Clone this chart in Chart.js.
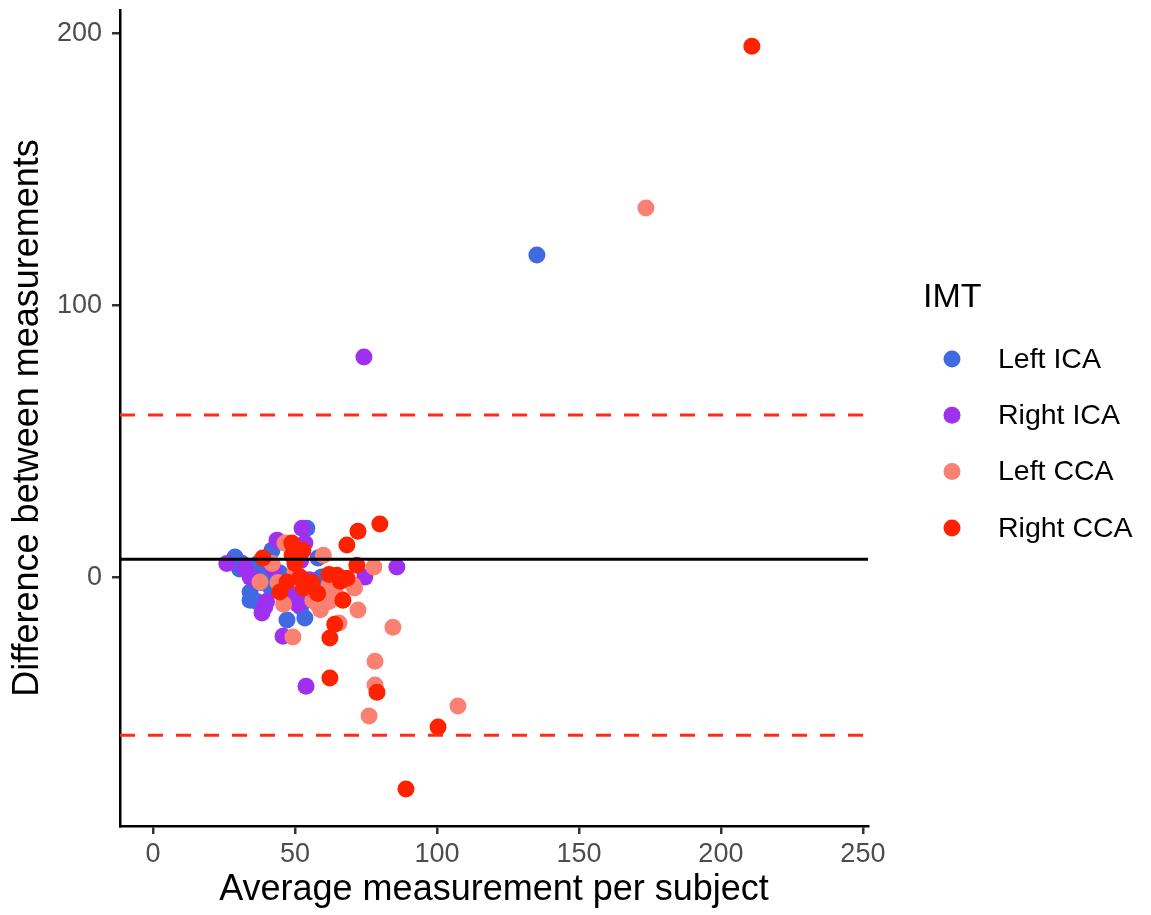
<!DOCTYPE html>
<html>
<head>
<meta charset="utf-8">
<title>Bland-Altman IMT</title>
<script src="https://cdn.jsdelivr.net/npm/chart.js@4/dist/chart.umd.min.js"></script>
<style>
  html, body { margin: 0; padding: 0; background: #fff; }
  #wrap { width: 1151px; height: 915px; }
</style>
</head>
<body>
<div id="wrap"><canvas id="baChart"></canvas></div>
<script>
// average vs difference, one pair of arrays per IMT site
const leftIcaX = [135.2, 28.9, 31.3, 34.2, 39.4, 44.7, 41.9, 34.2, 34.2, 36.5, 47.2, 53.5, 58.8, 58.1, 59.5, 61.6, 54.2, 41.5, 30.5, 40, 46, 38, 52, 56.5, 60.5, 33, 37];
const leftIcaY = [118.4, 7.4, 5.1, 1.5, 0.7, 1.5, 9.9, -5.5, -8.5, -9, -15.8, -15, -0.4, 7, 0, -4.8, 18, -4, 3, 2.5, 0, -2, -11, -3, -1, 4, 5];

const rightIcaX = [74.3, 53.9, 85.9, 74.6, 26, 32.4, 34.2, 42.3, 43.7, 52.5, 53.5, 39.4, 38.4, 45.8, 51, 48.2, 55, 46, 52, 36, 40, 51];
const rightIcaY = [80.9, -40.1, 3.7, 0, 5, 3.3, 0, 3.3, 13.6, 18, 12.5, -11, -13.2, -21.7, -7.7, -5.9, -1, -3, 6, -1, -9, -10];

const leftCcaX = [173.6, 107.4, 76.1, 78.2, 78.2, 84.5, 65.5, 72.2, 77.8, 60, 70.4, 61.6, 46.5, 37.7, 56.3, 49.3, 64, 58, 62, 55, 68, 42, 50, 46, 66, 71, 62, 59, 44, 64.5];
const leftCcaY = [135.7, -47.4, -51.1, -39.7, -30.9, -18.4, -16.9, -12.1, 3.7, 8, -2.9, -4.8, 12.5, -1.8, -8.5, -22, -5, -10, -9, -3, -1, 5, 2, -10, -8, -4, -3, -12, -2, -7];

const rightCcaX = [210.9, 89.1, 100.4, 78.9, 62.3, 62.3, 64, 66.9, 71.8, 72.2, 79.9, 68.3, 52.8, 52.5, 64.8, 68.3, 66, 38.7, 48.9, 47.2, 51.8, 44.7, 56, 50, 62, 58, 49, 53];
const rightCcaY = [195.2, -77.9, -55.1, -42.3, -37.1, -22.4, -17.3, -8.5, 4.4, 16.9, 19.5, 11.8, 9.9, -1, 0.7, -0.4, -1.5, 7, 12.5, -1.8, 0, -5.5, -2, 5, 1, -6, 8, -4];

const siteLabels = ['Left ICA', 'Right ICA', 'Left CCA', 'Right CCA'];
const siteColors = ['#4169E1', '#A030F0', '#FA8072', '#FF2200'];

// mean difference and limits of agreement
const meanDiff = 6.6;
const upperLimit = 59.6;
const lowerLimit = -58.1;

const xRange = [-11.6, 251.8];
const yRange = [-91.5, 208.5];
const xTicks = [0, 50, 100, 150, 200, 250];
const yTicks = [0, 100, 200];

const FONT = '"Liberation Sans", Arial, Helvetica, sans-serif';

function toPoints(xs, ys) {
  return xs.map((x, i) => ({ x: x, y: ys[i] }));
}

function hline(value, color, dash) {
  return {
    type: 'line',
    isRefLine: true,
    data: xRange.map(x => ({ x: x, y: value })),
    borderColor: color,
    borderWidth: 3,
    borderDash: dash,
    pointRadius: 0,
    showLine: true,
    fill: false,
    order: 0
  };
}

const siteData = [
  toPoints(leftIcaX, leftIcaY),
  toPoints(rightIcaX, rightIcaY),
  toPoints(leftCcaX, leftCcaY),
  toPoints(rightCcaX, rightCcaY)
];

const pointSets = siteLabels.map((label, i) => ({
  type: 'scatter',
  label: label,
  data: siteData[i],
  backgroundColor: siteColors[i],
  borderWidth: 0,
  pointRadius: 8.5,
  order: 4 - i
}));

// ggplot-style legend on the right
const sideLegend = {
  id: 'sideLegend',
  afterDraw(chart) {
    const ctx = chart.ctx;
    ctx.save();
    ctx.fillStyle = '#000';
    ctx.font = '34px ' + FONT;
    ctx.textBaseline = 'alphabetic';
    ctx.textAlign = 'left';
    ctx.fillText('IMT', 923, 307);
    ctx.font = '28.5px ' + FONT;
    ctx.textBaseline = 'middle';
    chart.data.datasets.filter(d => !d.isRefLine).forEach((d, i) => {
      const cy = 359 + i * 56.3;
      ctx.beginPath();
      ctx.arc(952, cy, 8.5, 0, Math.PI * 2);
      ctx.fillStyle = d.backgroundColor;
      ctx.fill();
      ctx.fillStyle = '#000';
      ctx.fillText(d.label, 998, cy + 1);
    });
    ctx.restore();
  }
};

const axisGrid = {
  display: true,
  drawOnChartArea: false,
  drawTicks: true,
  tickLength: 8,
  color: '#333333',
  lineWidth: 2.5
};

new Chart(document.getElementById('baChart').getContext('2d'), {
  data: {
    datasets: [
      hline(meanDiff, '#000000', []),
      hline(upperLimit, '#FF2A1A', [15, 13]),
      hline(lowerLimit, '#FF2A1A', [15, 13])
    ].concat(pointSets)
  },
  options: {
    responsive: true,
    maintainAspectRatio: false,
    animation: false,
    layout: { padding: { top: 10, right: 283, left: 0, bottom: 0 } },
    plugins: {
      legend: { display: false },
      tooltip: { enabled: false }
    },
    scales: {
      x: {
        type: 'linear',
        min: xRange[0],
        max: xRange[1],
        afterBuildTicks: s => { s.ticks = xTicks.map(v => ({ value: v })); },
        afterFit: s => { s.height = 89; },
        grid: axisGrid,
        border: { display: true, color: '#000', width: 2.5 },
        ticks: { color: '#4D4D4D', font: { family: FONT, size: 27 }, padding: 4, maxRotation: 0 },
        title: {
          display: true,
          text: 'Average measurement per subject',
          color: '#000',
          font: { family: FONT, size: 36 },
          padding: { top: 0, bottom: 3 }
        }
      },
      y: {
        type: 'linear',
        min: yRange[0],
        max: yRange[1],
        afterBuildTicks: s => { s.ticks = yTicks.map(v => ({ value: v })); },
        afterFit: s => { s.width = 120; s.paddingTop = 0; s.paddingBottom = 0; },
        grid: axisGrid,
        border: { display: true, color: '#000', width: 2.5 },
        ticks: { color: '#4D4D4D', font: { family: FONT, size: 27 }, padding: 10 },
        title: {
          display: true,
          text: 'Difference between measurements',
          color: '#000',
          font: { family: FONT, size: 36 },
          padding: { top: 6, bottom: 0 }
        }
      }
    }
  },
  plugins: [sideLegend]
});
</script>
</body>
</html>
